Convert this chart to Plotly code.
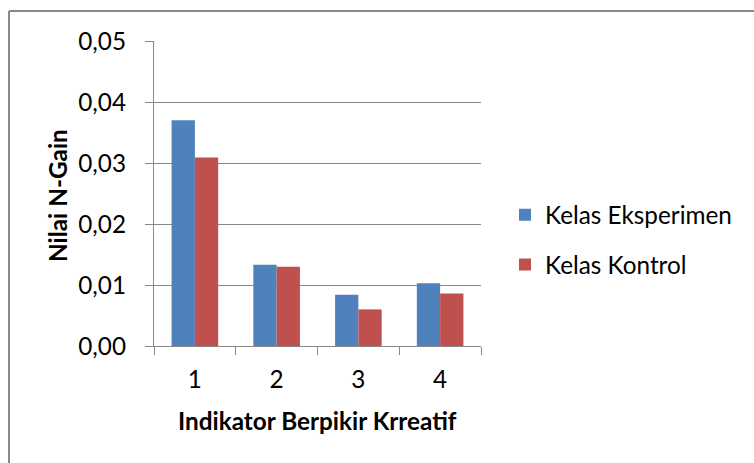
import plotly.graph_objects as go

categories = ["1", "2", "3", "4"]
eksperimen = [0.0370, 0.0133, 0.0084, 0.0103]
kontrol = [0.0309, 0.0130, 0.0060, 0.0086]
series_names = ["Kelas Eksperimen", "Kelas Kontrol"]
y_title = "Nilai N-Gain"
x_title = "Indikator Berpikir Krreatif"

W, H = 754, 463
L, R, T, B = 154, 481, 41, 346
FONT = "Lato"
FS = 24.3
GRAY = "#898989"

fig = go.Figure()
fig.add_trace(go.Bar(x=categories, y=eksperimen, name=series_names[0],
                     marker=dict(color="#4F81BD", line=dict(width=0)), legendgroup="a"))
fig.add_trace(go.Bar(x=categories, y=kontrol, name=series_names[1],
                     marker=dict(color="#C0504D", line=dict(width=0)), legendgroup="b"))

def px_x(p):
    return (p - L) / (R - L)

def px_y(p):
    return (B - p) / (B - T)

fig.update_layout(
    width=W, height=H,
    margin=dict(l=L, r=W - R, t=T, b=H - B, pad=0),
    paper_bgcolor="white", plot_bgcolor="white",
    separators=",.",
    barmode="group", bargap=0.43, bargroupgap=0,
    font=dict(family=FONT, size=FS, color="black"),
    showlegend=True,
    legend=dict(x=px_x(505), xanchor="left", y=px_y(192.5), yanchor="top",
                traceorder="grouped", tracegroupgap=15,
                font=dict(family=FONT, size=FS, color="black"),
                bgcolor="rgba(0,0,0,0)"),
    xaxis=dict(type="category", showline=True, linecolor=GRAY, linewidth=1.3,
               ticks="outside", ticklen=8, tickcolor=GRAY, tickwidth=1.3,
               tickson="boundaries", showgrid=False, zeroline=False,
               ticklabelstandoff=12,
               tickfont=dict(family=FONT, size=FS, color="black")),
    yaxis=dict(range=[0, 0.05], dtick=0.01, tick0=0, tickformat=".2f",
               showline=True, linecolor=GRAY, linewidth=1.3,
               ticks="outside", ticklen=8, tickcolor=GRAY, tickwidth=1.3,
               showgrid=True, gridcolor=GRAY, gridwidth=1.3, zeroline=False,
               ticklabelstandoff=14,
               tickfont=dict(family=FONT, size=FS, color="black")),
    annotations=[
        dict(text="<b>" + x_title + "</b>", xref="paper", yref="paper",
             x=px_x(317), y=px_y(420), xanchor="center", yanchor="middle",
             showarrow=False, font=dict(family=FONT, size=FS, color="black")),
        dict(text="<b>" + y_title + "</b>", xref="paper", yref="paper",
             x=px_x(57), y=px_y(196), xanchor="center", yanchor="middle",
             textangle=-90, showarrow=False,
             font=dict(family=FONT, size=FS, color="black")),
    ],
    shapes=[
        dict(type="line", xref="paper", yref="paper",
             x0=px_x(9), x1=px_x(800), y0=px_y(11), y1=px_y(11),
             line=dict(color=GRAY, width=2)),
        dict(type="line", xref="paper", yref="paper",
             x0=px_x(9), x1=px_x(9), y0=px_y(11), y1=px_y(500),
             line=dict(color=GRAY, width=2)),
    ],
)

fig.write_html("out.html", config={"displayModeBar": False},
               post_script="document.body.style.margin='0';")
